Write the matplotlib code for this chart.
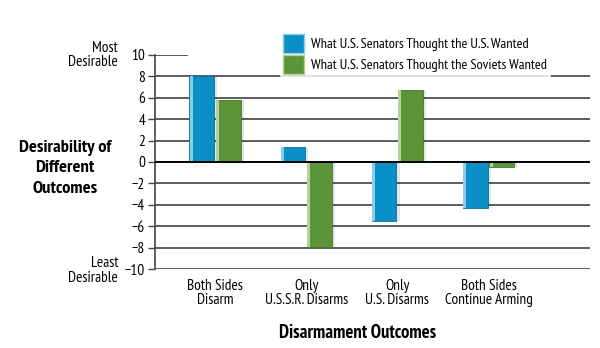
import matplotlib
matplotlib.use("Agg")
import matplotlib.pyplot as plt
import numpy as np
from matplotlib.patches import Patch

categories = ["Both Sides\nDisarm", "Only\nU.S.S.R. Disarms", "Only\nU.S. Disarms", "Both Sides\nContinue Arming"]
us_wanted = [8.0, 1.4, -5.5, -4.3]
soviets_wanted = [5.8, -7.9, 6.7, -0.5]
series_names = ["What U.S. Senators Thought the U.S. Wanted", "What U.S. Senators Thought the Soviets Wanted"]
yticks = list(range(-10, 11, 2))

FONT = ["PT Sans Narrow", "DejaVu Sans"]
plt.rcParams['font.family'] = FONT

blue = "#0a8fc6"
blue_light = "#8acde8"
blue_dark = "#07709c"
green = "#5b9537"
green_light = "#b3d19a"
green_dark = "#46772a"

fig = plt.figure(figsize=(6, 3.48), dpi=100)
ax = fig.add_axes([0.258, 0.227, 0.725, 0.615])

x = np.arange(len(categories))
w = 0.27
off = 0.145

for vals, xs, c, cl, cd in [(us_wanted, x - off, blue, blue_light, blue_dark),
                            (soviets_wanted, x + off, green, green_light, green_dark)]:
    ax.bar(xs + 0.035, vals, w, color="#000000", alpha=0.10, zorder=2)
    ax.bar(xs, vals, w, color=c, edgecolor=cd, lw=0.6, zorder=3)
    ax.bar(xs - w / 2 + 0.018, vals, 0.034, color=cl, zorder=4)

for yv in yticks:
    if yv == 0:
        ax.axhline(yv, color="black", lw=1.4, zorder=5)
    elif yv == 10:
        ax.axhline(yv, xmax=0.075, color="#4a4a4a", lw=1.3, zorder=1)
    else:
        ax.axhline(yv, color="#4f4f4f", lw=1.3, zorder=1)

ax.set_ylim(-10, 10)
ax.set_xlim(-0.66, 4.11)
ax.set_yticks(yticks)
ax.set_yticklabels([("\u2212" + str(-v)) if v < 0 else str(v) for v in yticks], fontsize=11)
ax.tick_params(axis='y', length=5, width=1, color="#444444", pad=2)
ax.set_xticks(x)
ax.set_xticklabels(categories, fontsize=11, linespacing=1.05)
ax.tick_params(axis='x', length=0, pad=7)
for s in ["top", "right", "bottom"]:
    ax.spines[s].set_visible(False)
ax.spines["left"].set_color("#444444")
ax.spines["left"].set_linewidth(1.2)

ax.set_xlabel("Disarmament Outcomes", fontsize=13.4, fontweight="bold")
ax.xaxis.set_label_coords(0.466, -0.255)

fig.text(0.108, 0.517, "Desirability of\nDifferent\nOutcomes", ha="center", va="center",
         fontsize=13.3, fontweight="bold", linespacing=1.38)
fig.text(0.197, 0.842, "Most\nDesirable", ha="right", va="center", fontsize=11, linespacing=1.05)
fig.text(0.197, 0.223, "Least\nDesirable", ha="right", va="center", fontsize=11, linespacing=1.05)

handles = [Patch(facecolor=blue, edgecolor=blue_light, lw=1), Patch(facecolor=green, edgecolor=green_light, lw=1)]
leg = fig.legend(handles, series_names, loc="upper left", bbox_to_anchor=(0.455, 0.93),
                 frameon=True, fontsize=10.4, handlelength=1.45, handleheight=1.6,
                 handletextpad=0.5, labelspacing=0.15, borderpad=0.2)
leg.get_frame().set_facecolor("white")
leg.get_frame().set_edgecolor("white")

fig.savefig("out.png", dpi=100, facecolor="white")
